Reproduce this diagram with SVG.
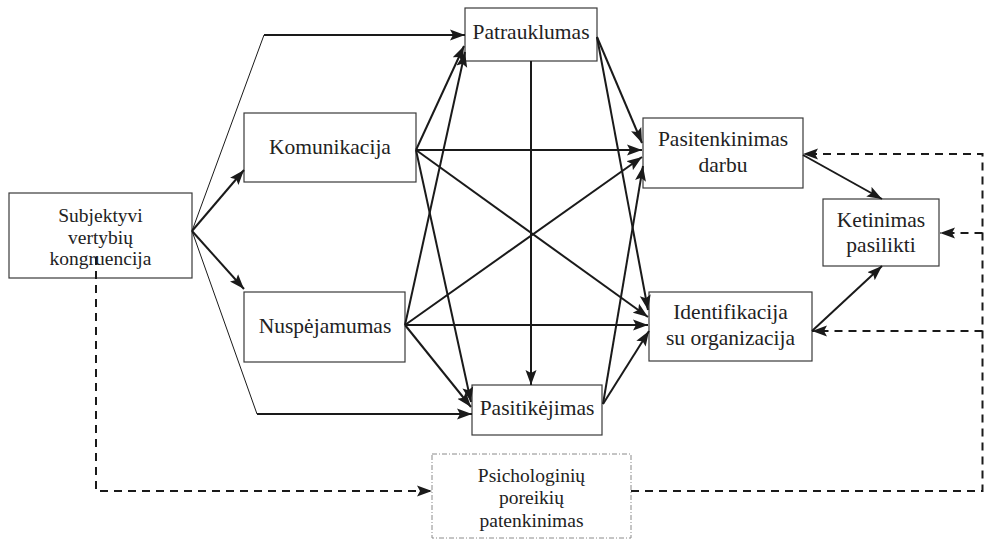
<svg xmlns="http://www.w3.org/2000/svg" width="985" height="540" viewBox="0 0 985 540">
  <style>
    .box { fill: #ffffff; stroke: #3a3a3a; stroke-width: 1.2; }
    .box-dd { fill: #ffffff; stroke: #8a8a8a; stroke-width: 1; stroke-dasharray: 5 2 1 2; }
    text { font-family: 'Liberation Serif', 'Times New Roman', Times, serif; fill: #222; text-anchor: middle; }
    .lbl { font-size: 21.5px; }
    .lbl-s { font-size: 19.5px; }
    .edge { fill: none; stroke: #1a1a1a; stroke-width: 2; }
    .thin { fill: none; stroke: #1a1a1a; stroke-width: 1; }
    .dash { fill: none; stroke: #1a1a1a; stroke-width: 2; stroke-dasharray: 8 6; }
  </style>
  <defs>
    <marker id="arrow" markerUnits="userSpaceOnUse" markerWidth="16" markerHeight="12" viewBox="0 0 16 12" refX="15" refY="6" orient="auto">
      <path d="M0,0.5 L15,6 L0,11.5 L3,6 Z" fill="#1a1a1a"/>
    </marker>
  </defs>

  <rect width="985" height="540" fill="#ffffff"/>

  <!-- nodes -->
  <g id="subjektyvi">
    <rect class="box" x="9" y="193" width="183" height="85"/>
    <text class="lbl-s" x="100.5" y="221.5">Subjektyvi</text>
    <text class="lbl-s" x="100.5" y="243.5">vertybių</text>
    <text class="lbl-s" x="100.5" y="265">kongruencija</text>
  </g>
  <g id="komunikacija">
    <rect class="box" x="244" y="113" width="172" height="69"/>
    <text class="lbl" x="330" y="154">Komunikacija</text>
  </g>
  <g id="nuspejamumas">
    <rect class="box" x="244" y="292" width="161" height="70"/>
    <text class="lbl" x="325" y="333">Nuspėjamumas</text>
  </g>
  <g id="patrauklumas">
    <rect class="box" x="465" y="8" width="132" height="53"/>
    <text class="lbl" x="531" y="38.5">Patrauklumas</text>
  </g>
  <g id="pasitikejimas">
    <rect class="box" x="472" y="385" width="130" height="50"/>
    <text class="lbl" x="537" y="415">Pasitikėjimas</text>
  </g>
  <g id="pasitenkinimas">
    <rect class="box" x="643" y="118" width="160" height="70"/>
    <text class="lbl" x="723" y="146">Pasitenkinimas</text>
    <text class="lbl" x="723" y="171.5">darbu</text>
  </g>
  <g id="identifikacija">
    <rect class="box" x="649" y="292" width="163" height="69"/>
    <text class="lbl" x="730.5" y="318.5">Identifikacija</text>
    <text class="lbl" x="730.5" y="345">su organizacija</text>
  </g>
  <g id="ketinimas">
    <rect class="box" x="823" y="199" width="116" height="67"/>
    <text class="lbl" x="881" y="226.5">Ketinimas</text>
    <text class="lbl" x="881" y="251.5">pasilikti</text>
  </g>
  <g id="psichologiniu">
    <rect class="box-dd" x="432" y="454" width="199" height="84"/>
    <text class="lbl-s" x="531.5" y="481.5">Psichologinių</text>
    <text class="lbl-s" x="531.5" y="504">poreikių</text>
    <text class="lbl-s" x="531.5" y="526.5">patenkinimas</text>
  </g>

  <!-- connectors -->
  <g id="connectors">
    <!-- from Subjektyvi vertybių kongruencija -->
    <path class="edge" d="M192,231 L244,170" marker-end="url(#arrow)"/>
    <path class="edge" d="M192,231 L244,289" marker-end="url(#arrow)"/>
    <path class="thin" d="M192,231 L264,35"/>
    <path class="edge" d="M264,35 L465,35" marker-end="url(#arrow)"/>
    <path class="thin" d="M192,231 L257,414"/>
    <path class="edge" d="M257,414 L472,414" marker-end="url(#arrow)"/>

    <!-- from Komunikacija -->
    <path class="edge" d="M416,150 L464,46" marker-end="url(#arrow)"/>
    <path class="edge" d="M416,150 L642,150" marker-end="url(#arrow)"/>
    <path class="edge" d="M416,150 L648,317" marker-end="url(#arrow)"/>
    <path class="edge" d="M416,150 L471,402" marker-end="url(#arrow)"/>

    <!-- from Nuspėjamumas -->
    <path class="edge" d="M405,325 L465,52" marker-end="url(#arrow)"/>
    <path class="edge" d="M405,325 L642,157" marker-end="url(#arrow)"/>
    <path class="edge" d="M405,325 L648,325" marker-end="url(#arrow)"/>
    <path class="edge" d="M405,325 L471,407" marker-end="url(#arrow)"/>

    <!-- from Patrauklumas -->
    <path class="edge" d="M531,61 L531,385" marker-end="url(#arrow)"/>
    <path class="edge" d="M597,37 L642,143" marker-end="url(#arrow)"/>
    <path class="edge" d="M597,37 L648,310" marker-end="url(#arrow)"/>

    <!-- from Pasitikėjimas -->
    <path class="edge" d="M603,404 L643,166" marker-end="url(#arrow)"/>
    <path class="edge" d="M603,404 L649,331" marker-end="url(#arrow)"/>

    <!-- to Ketinimas pasilikti -->
    <path class="edge" d="M803,155 L882,199" marker-end="url(#arrow)"/>
    <path class="edge" d="M812,331 L882,266" marker-end="url(#arrow)"/>

    <!-- dashed paths -->
    <path class="dash" d="M96,257 L96,491 L432,491" marker-end="url(#arrow)"/>
    <path class="dash" d="M631,491 L982.5,491 L982.5,154 L803,154" marker-end="url(#arrow)"/>
    <path class="dash" d="M982.5,233 L940,233" marker-end="url(#arrow)"/>
    <path class="dash" d="M982.5,331 L812,331" marker-end="url(#arrow)"/>
  </g>
</svg>
